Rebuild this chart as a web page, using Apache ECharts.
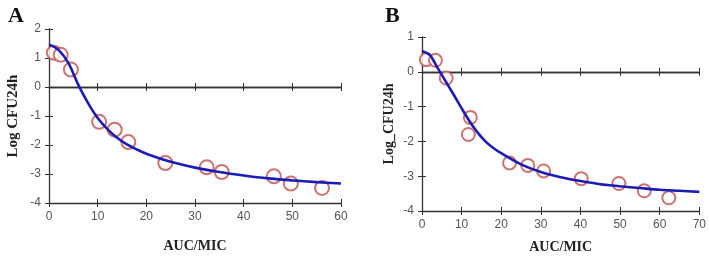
<!DOCTYPE html>
<html>
<head>
<meta charset="utf-8">
<script src="https://cdn.jsdelivr.net/npm/echarts@6/dist/echarts.min.js"></script>
<style>
  html, body { margin: 0; padding: 0; background: #fff; }
  #chart { width: 709px; height: 259px; }
</style>
</head>
<body>
<div id="chart"></div>
<script>
// Panel A: observed points and fitted curve
const aucA = [1.0, 2.4, 4.5, 10.3, 13.5, 16.3, 23.9, 32.4, 35.5, 46.2, 49.7, 56.1];
const logA = [1.18, 1.11, 0.6, -1.2, -1.47, -1.9, -2.62, -2.77, -2.93, -3.08, -3.33, -3.48];
const fitXA = [0, 2, 4, 6, 8, 10, 12, 14, 16, 18, 20, 25, 30, 35, 40, 45, 50, 55, 60];
const fitYA = [1.47, 1.27, 0.82, 0.08, -0.55, -1.07, -1.45, -1.75, -1.98, -2.15, -2.3, -2.58, -2.78, -2.93, -3.05, -3.15, -3.22, -3.28, -3.33];

// Panel B
const aucB = [1.1, 3.4, 6.1, 12.2, 11.7, 22.1, 26.7, 30.7, 40.2, 49.7, 56.1, 62.3];
const logB = [0.35, 0.33, -0.18, -1.31, -1.8, -2.62, -2.69, -2.85, -3.07, -3.21, -3.42, -3.62];
const fitXB = [0, 2, 4, 6, 8, 10, 12, 14, 16, 18, 20, 25, 30, 35, 40, 45, 50, 55, 60, 65, 70];
const fitYB = [0.6, 0.48, 0.1, -0.28, -0.66, -1.05, -1.42, -1.74, -2.0, -2.19, -2.34, -2.66, -2.88, -3.03, -3.14, -3.23, -3.29, -3.34, -3.39, -3.42, -3.45];

const pairs = (xs, ys) => xs.map((x, i) => [x, ys[i]]);

const axisColor = '#333';
const labelStyle = { color: '#555', fontSize: 12, fontFamily: 'Liberation Sans' };
const titleFont = { color: '#222', fontSize: 14, fontWeight: 'bold', fontFamily: 'Liberation Serif' };

// x axes for one grid: bottom with labels, its inner ticks, and the zero line (ticks both sides)
const makeXAxes = (grid, max, nameGap) => {
    const base = { type: 'value', gridIndex: grid, position: 'bottom', min: 0, max: max, interval: 10, splitLine: { show: false } };
    return [
        Object.assign({}, base, {
            name: 'AUC/MIC', nameLocation: 'middle', nameGap: nameGap, nameTextStyle: titleFont,
            axisLine: { onZero: false, lineStyle: { color: axisColor, width: 1.3 } },
            axisTick: { length: 4, lineStyle: { color: axisColor } },
            axisLabel: Object.assign({ margin: 8 }, labelStyle)
        }),
        Object.assign({}, base, {
            axisLine: { onZero: false, show: false },
            axisTick: { inside: true, length: 4, lineStyle: { color: axisColor } },
            axisLabel: { show: false }
        }),
        Object.assign({}, base, {
            axisLine: { onZero: true, lineStyle: { color: axisColor, width: 1.3 } },
            axisTick: { length: 4, lineStyle: { color: axisColor } },
            axisLabel: { show: false }
        }),
        Object.assign({}, base, {
            axisLine: { onZero: true, lineStyle: { color: axisColor, width: 1.3 } },
            axisTick: { inside: true, length: 4, lineStyle: { color: axisColor } },
            axisLabel: { show: false }
        })
    ];
};

const makeYAxes = (grid, min, max, name, nameGap, nameSize) => {
    const base = { type: 'value', gridIndex: grid, position: 'left', min: min, max: max, interval: 1, splitLine: { show: false } };
    return [
        Object.assign({}, base, {
            name: name, nameLocation: 'middle', nameRotate: 90, nameGap: nameGap,
            nameTextStyle: Object.assign({}, titleFont, { fontSize: nameSize }),
            axisLine: { onZero: false, lineStyle: { color: axisColor, width: 1.3 } },
            axisTick: { length: 4, lineStyle: { color: axisColor } },
            axisLabel: Object.assign({ margin: 8 }, labelStyle)
        }),
        Object.assign({}, base, {
            axisLine: { onZero: false, show: false },
            axisTick: { inside: true, length: 4, lineStyle: { color: axisColor } },
            axisLabel: { show: false }
        })
    ];
};

const pointSeries = (axisIdx, yIdx, data, size) => ({
    type: 'scatter', xAxisIndex: axisIdx, yAxisIndex: yIdx, data: data,
    symbol: 'emptyCircle', symbolSize: size,
    itemStyle: { color: '#c0504d', borderColor: '#c0504d', borderWidth: 1.2 },
    z: 3
});

const fitSeries = (axisIdx, yIdx, data) => ({
    type: 'line', xAxisIndex: axisIdx, yAxisIndex: yIdx, data: data,
    smooth: 0.3, showSymbol: false,
    lineStyle: { color: '#1c1cb4', width: 2.6 },
    z: 4
});

const chart = echarts.init(document.getElementById('chart'));
chart.setOption({
    animation: false,
    title: [
        { text: 'A', left: 3, top: 0, textStyle: { fontFamily: 'Liberation Serif', fontWeight: 'bold', fontSize: 22, color: '#111' } },
        { text: 'B', left: 380, top: 0, textStyle: { fontFamily: 'Liberation Serif', fontWeight: 'bold', fontSize: 22, color: '#111' } }
    ],
    grid: [
        { left: 49, top: 29, width: 292, height: 174 },
        { left: 422, top: 37, width: 278, height: 180 }
    ],
    xAxis: makeXAxes(0, 60, 36).concat(makeXAxes(1, 70, 29)),
    yAxis: makeYAxes(0, -4, 2, 'Log CFU24h', 28, 15).concat(makeYAxes(1, -4, 1, 'Log_CFU24h', 26, 14)),
    series: [
        pointSeries(0, 0, pairs(aucA, logA), 14),
        fitSeries(0, 0, pairs(fitXA, fitYA)),
        pointSeries(4, 2, pairs(aucB, logB), 13),
        fitSeries(4, 2, pairs(fitXB, fitYB))
    ]
});
</script>
</body>
</html>
